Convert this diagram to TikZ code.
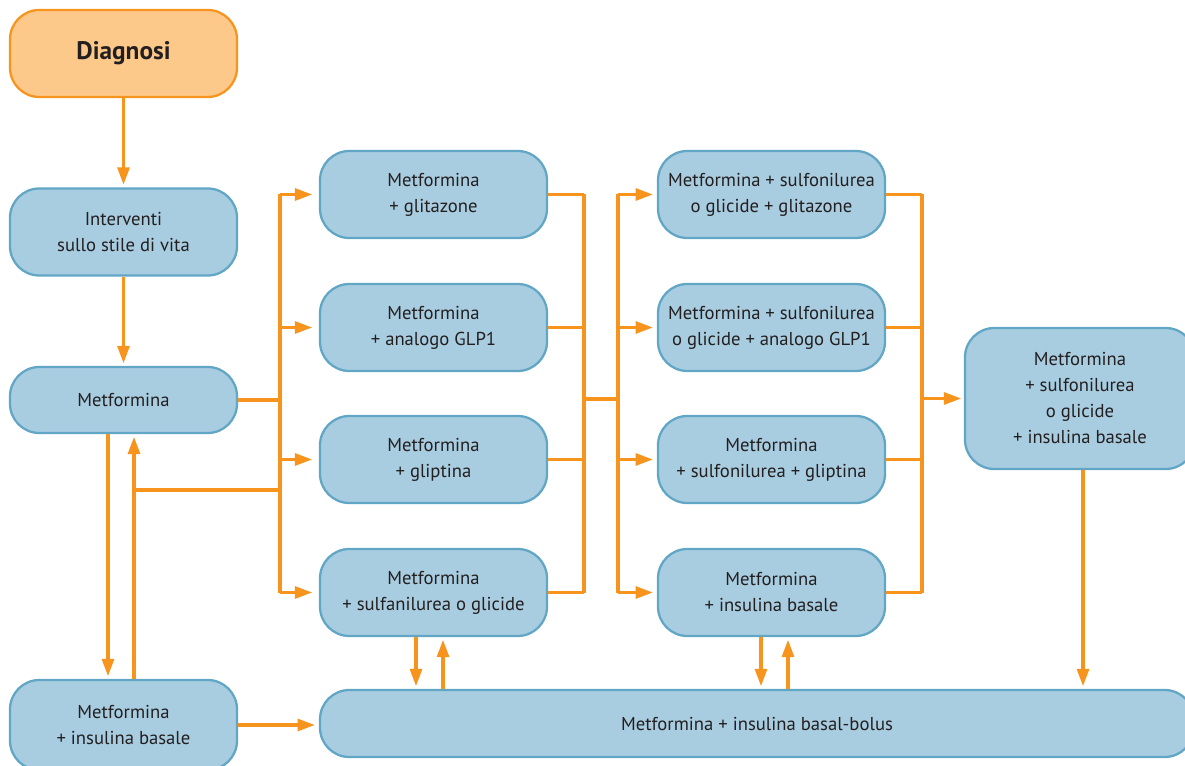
\documentclass[tikz,border=0pt]{standalone}
\usepackage{fontspec}
\setmainfont{PT Sans}
\usetikzlibrary{arrows.meta,calc}

\definecolor{boxblue}{HTML}{A9CDE0}
\definecolor{boxedge}{HTML}{62A6C6}
\definecolor{linkorange}{HTML}{F7941D}
\definecolor{diagfill}{HTML}{FCC98B}
\definecolor{inkgrey}{HTML}{231F20}

\tikzset{
  box/.style={draw=boxedge,fill=boxblue,line width=1.7pt,rounded corners=22pt,
    minimum width=170.25pt,minimum height=65.25pt,inner sep=0pt,align=center,
    text=inkgrey,font=\fontsize{14}{19.5}\selectfont},
  link/.style={draw=linkorange,line width=2.3pt},
  linkarr/.style={link,-{Triangle[length=13pt,width=9pt]},shorten >=2pt}
}

\begin{document}
\begin{tikzpicture}[x=0.75pt,y=-0.75pt]
\path[use as bounding box,clip] (0,0) rectangle (1185,766);

\node[box,fill=diagfill,draw=linkorange,font=\bfseries\fontsize{19}{22}\selectfont] (diag) at (123.5,53.5) {Diagnosi};
\node[box] (stile) at (123.5,232) {Interventi\\sullo stile di vita};
\node[box,minimum height=49.5pt] (metf) at (123.5,400) {Metformina};
\node[box,minimum height=67.5pt] (metins) at (123.5,725) {Metformina\\+ insulina basale};

\node[box] (glit) at (433.5,194.5) {Metformina\\+ glitazone};
\node[box] (glp) at (433.5,327.5) {Metformina\\+ analogo GLP1};
\node[box] (glip) at (433.5,459.5) {Metformina\\+ gliptina};
\node[box] (sulf) at (433.5,592.5) {Metformina\\+ sulfanilurea o glicide};

\node[box] (sglit) at (771.5,194.5) {Metformina + sulfonilurea\\o glicide + glitazone};
\node[box] (sglp) at (771.5,327.5) {Metformina + sulfonilurea\\o glicide + analogo GLP1};
\node[box] (sglip) at (771.5,459.5) {Metformina\\+ sulfonilurea + gliptina};
\node[box] (mins) at (771.5,592.5) {Metformina\\+ insulina basale};

\node[box,minimum width=172.5pt,minimum height=105.75pt] (tripla) at (1080,398.5) {Metformina\\+ sulfonilurea\\o glicide\\+ insulina basale};
\node[box,minimum width=655.5pt,minimum height=50.25pt] (bolus) at (757,723.5) {Metformina + insulina basal-bolus};

\coordinate (bus1) at (280,0);
\coordinate (bus2) at (584,0);
\coordinate (bus3) at (618,0);
\coordinate (bus4) at (922,0);
\coordinate (join) at (134,490);
\coordinate (mid) at (584,399);
\coordinate (dn0) at (108,0);
\coordinate (up0) at (134,0);
\coordinate (dn1) at (416,0);
\coordinate (up1) at (443,0);
\coordinate (dn2) at (761,0);
\coordinate (up2) at (788,0);
\coordinate (dn3) at (1083,0);

\draw[linkarr] (diag) -- (stile);
\draw[linkarr] (stile) -- (metf);
\draw[linkarr] (metf.south -| dn0) -- (metins.north -| dn0);
\draw[linkarr] (metins.north -| up0) -- (metf.south -| up0);
\draw[link] (join) -- (join -| bus1);

\draw[link] (metf.east) -- (metf.east -| bus1);
\draw[link] (glit.west -| bus1) -- (sulf.west -| bus1);
\foreach \n in {glit,glp,glip,sulf}
  \draw[linkarr,shorten >=5pt] (\n.west -| bus1) -- (\n.west);

\foreach \n in {glit,glp,glip,sulf}
  \draw[link] (\n.east) -- (\n.east -| bus2);
\draw[link] (glit.east -| bus2) -- (sulf.east -| bus2);
\draw[link] (mid) -- (mid -| bus3);
\draw[link] (sglit.west -| bus3) -- (mins.west -| bus3);
\foreach \n in {sglit,sglp,sglip,mins}
  \draw[linkarr,shorten >=3pt] (\n.west -| bus3) -- (\n.west);

\foreach \n in {sglit,sglp,sglip,mins}
  \draw[link] (\n.east) -- (\n.east -| bus4);
\draw[link] (sglit.east -| bus4) -- (mins.east -| bus4);
\draw[linkarr] (tripla.west -| bus4) -- (tripla.west);

\draw[linkarr] (sulf.south -| dn1) -- (bolus.north -| dn1);
\draw[linkarr] (bolus.north -| up1) -- (sulf.south -| up1);
\draw[linkarr] (mins.south -| dn2) -- (bolus.north -| dn2);
\draw[linkarr] (bolus.north -| up2) -- (mins.south -| up2);
\draw[linkarr] (tripla.south -| dn3) -- (bolus.north -| dn3);
\draw[linkarr,shorten >=3pt] (metins.east) -- (metins.east -| bolus.west);
\end{tikzpicture}
\end{document}
